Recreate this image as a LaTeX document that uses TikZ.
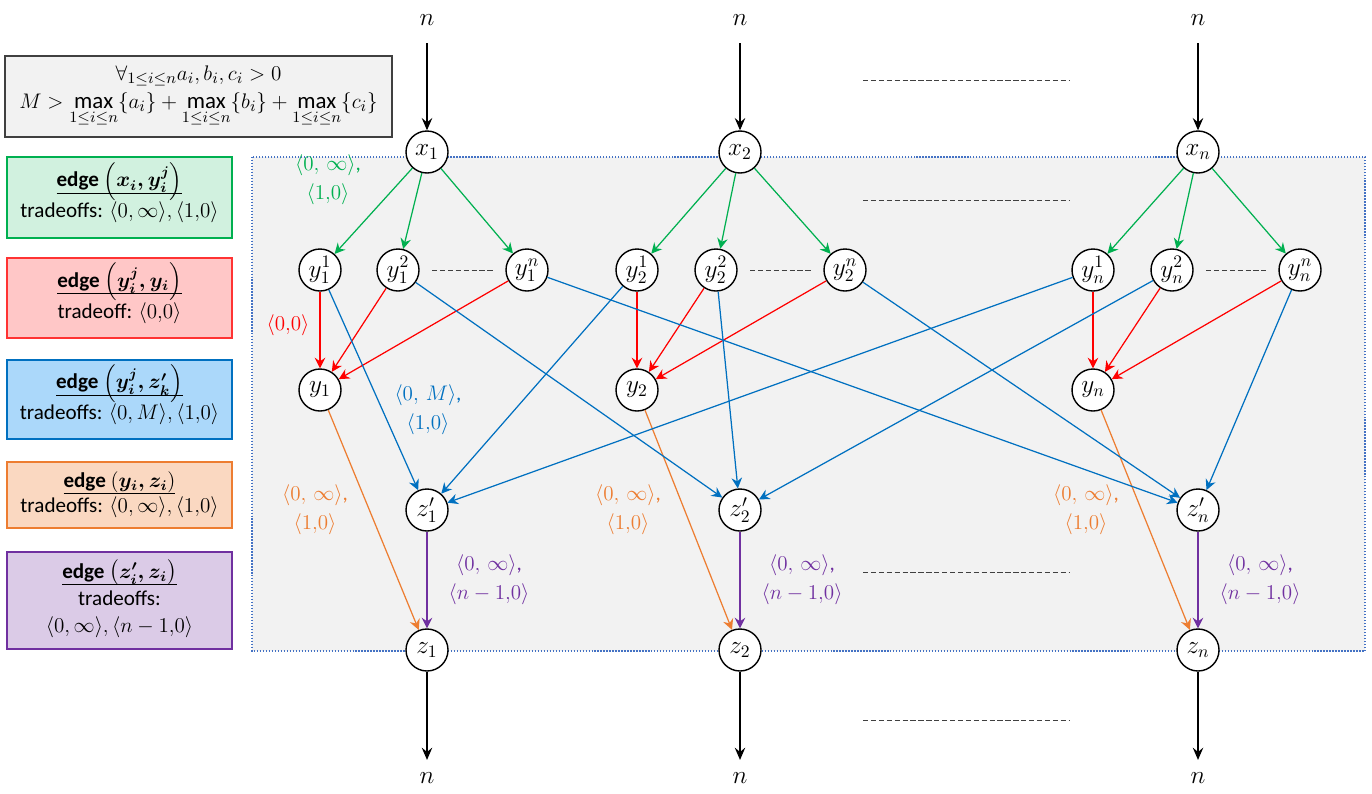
\documentclass[tikz,border=0pt,12pt]{standalone}
\usepackage{amsmath}
\usepackage{fontspec}
\setmainfont{Carlito}
\usetikzlibrary{arrows.meta}

\definecolor{cgreen}{HTML}{00B050}
\definecolor{cred}{HTML}{FF0000}
\definecolor{cblue}{HTML}{0070C0}
\definecolor{corange}{HTML}{ED7D31}
\definecolor{cpurple}{HTML}{7030A0}
\definecolor{bluefill}{HTML}{ABD8FA}
\definecolor{panelfill}{HTML}{F2F2F2}
\definecolor{paneledge}{HTML}{4472C4}
\definecolor{dashgray}{HTML}{404040}

\newcommand{\tup}[1]{\langle #1\rangle}
\newcommand{\edgehead}[1]{\underline{\textbf{edge} $\smash{\left(\boldsymbol{#1}\right)}$}}

\tikzset{
  vtx/.style={circle,draw,line width=0.8pt,fill=white,minimum size=0.84cm,inner sep=0pt,font=\large},
  arr/.style={-{Stealth[length=6pt,width=6pt,inset=2pt]},line width=0.7pt},
  blk/.style={-{Stealth[length=7pt,width=6pt,inset=2.5pt]},line width=0.6pt,black},
  sepline/.style={dashgray,line width=0.5pt,dash pattern=on 3pt off 1.5pt},
  legendbox/.style={draw,line width=0.6pt,align=center,minimum width=4.5cm,inner sep=2pt},
  elab/.style={align=center,font=\normalsize}
}

\begin{document}
\begin{tikzpicture}[x=0.2mm,y=-0.2mm]
  \useasboundingbox (0,0) rectangle (1372,793);
  % --- panel ---
  \draw[fill=panelfill,draw=paneledge,densely dotted,line width=0.7pt] (252,157) rectangle (1365,651);
  % --- legend ---
  \node[draw=dashgray,fill=panelfill,line width=0.8pt,align=center,minimum width=7.74cm,minimum height=1.62cm,inner sep=2pt,font=\fontsize{13}{15}\selectfont] (cond) at (198.5,96.5)
    {$\forall_{1\le i\le n} a_i, b_i, c_i > 0$\\[1pt]
     $M > \max\limits_{1\le i\le n}\{a_i\} + \max\limits_{1\le i\le n}\{b_i\} + \max\limits_{1\le i\le n}\{c_i\}$};
  \node[legendbox,draw=cgreen,fill=cgreen!18,minimum height=1.62cm] (leggreen) at (119.5,197.5)
    {\edgehead{x_i,y_i^j}\\[3pt]tradeoffs: $\tup{0,\infty},\tup{1{,}0}$};
  \node[legendbox,draw=cred!80,fill=cred!22,minimum height=1.6cm] (legred) at (119.5,298)
    {\edgehead{y_i^j,y_i}\\[3pt]tradeoff: $\tup{0{,}0}$};
  \node[legendbox,draw=cblue,fill=bluefill,minimum height=1.58cm] (legblue) at (119.5,399.5)
    {\edgehead{y_i^j,z_k'}\\[3pt]tradeoffs: $\tup{0,M},\tup{1{,}0}$};
  \node[legendbox,draw=corange,fill=corange!30,minimum height=1.32cm] (legorange) at (119.5,495)
    {\edgehead{y_i,z_i}\\tradeoffs: $\tup{0,\infty},\tup{1{,}0}$};
  \node[legendbox,draw=cpurple,fill=cpurple!25,minimum height=1.94cm] (legpurple) at (119.5,600.5)
    {\edgehead{z_i',z_i}\\[1pt]tradeoffs:\\[1pt]$\tup{0,\infty},\tup{n-1{,}0}$};
  % --- vertici per colonna ---
  \foreach \c/\xx/\ya/\yb/\yc in {1/427/320/398/527, 2/740/637/716/845, n/1198/1093/1172/1300}{
    \node[vtx] (x\c) at (\xx,152) {$x_{\c}$};
    \node[vtx] (y\c-1) at (\ya,270) {$y_{\c}^{1}$};
    \node[vtx] (y\c-2) at (\yb,270) {$y_{\c}^{2}$};
    \node[vtx] (y\c-n) at (\yc,270) {$y_{\c}^{n}$};
    \node[vtx] (y\c) at (\ya,390) {$y_{\c}$};
    \node[vtx] (zp\c) at (\xx,510) {$z_{\c}'$};
    \node[vtx] (z\c) at (\xx,650) {$z_{\c}$};
    \node[font=\large] (top\c) at (\xx,20) {$n$};
    \node[font=\large] (bot\c) at (\xx,778) {$n$};
    \draw[blk,shorten <=6pt] (top\c) -- (x\c);
    \draw[blk,shorten >=3pt] (z\c) -- (bot\c);
    \draw[sepline,shorten <=7pt,shorten >=7pt] (y\c-2) -- (y\c-n);
    \foreach \j in {1,2,n}{
      \draw[arr,cgreen] (x\c) -- (y\c-\j);
      \draw[arr,cred] (y\c-\j) -- (y\c);
    }
    \draw[arr,corange] (y\c) -- (z\c);
    \draw[arr,cpurple] (zp\c) -- (z\c);
    \node[elab,text=corange] (lor\c) at (\xx-112,510) {$\tup{0,\,\infty}$,\\[2pt]$\tup{1{,}0}$};
    \node[elab,text=cpurple] (lpu\c) at (\xx+62,580) {$\tup{0,\,\infty}$,\\[2pt]$\tup{n-1{,}0}$};
  }
  % --- archi incrociati ---
  \foreach \c in {1,2,n}{
    \foreach \j in {1,2,n}{\draw[arr,cblue] (y\c-\j) -- (zp\j);}
  }
  \node[elab,text=cgreen] (lgr) at (328,180) {$\tup{0,\,\infty}$,\\[2pt]$\tup{1{,}0}$};
  \node[elab,text=cred] (lre) at (288,325) {$\tup{0{,}0}$};
  \node[elab,text=cblue] (lbl) at (428,410) {$\tup{0,\,M}$,\\[2pt]$\tup{1{,}0}$};
  % --- puntini tra le colonne ---
  \foreach \yy in {80,200,572,720}{\draw[sepline] (863,\yy) -- (1070,\yy);}
\end{tikzpicture}
\end{document}
